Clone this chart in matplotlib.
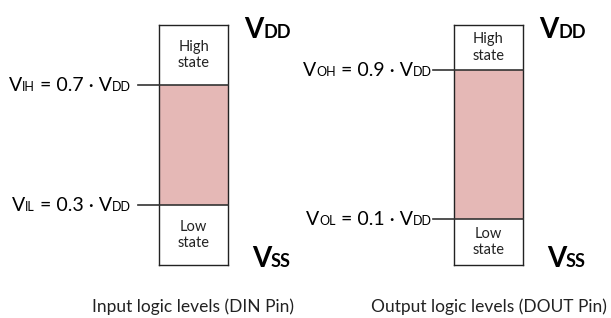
import matplotlib
matplotlib.use("Agg")
import matplotlib.pyplot as plt

# ---- data ----
panel_titles = ["Input logic levels (DIN Pin)", "Output logic levels (DOUT Pin)"]
high_names = ["IH", "OH"]
low_names = ["IL", "OL"]
high_factors = ["0.7", "0.9"]
low_factors = ["0.3", "0.1"]
# drawn (schematic) threshold positions, fraction of VSS..VDD
high_levels = [0.75, 0.81]
low_levels = [0.25, 0.19]
state_labels = ["High\nstate", "Low\nstate"]

W, H = 611, 318
FONT = "Lato"
plt.rcParams['font.family'] = [FONT, 'DejaVu Sans']

fig = plt.figure(figsize=(W / 100, H / 100), dpi=100)
ov = fig.add_axes([0, 0, 1, 1])
ov.set_xlim(0, W)
ov.set_ylim(H, 0)
ov.axis("off")

renderer = fig.canvas.get_renderer()


def chain_text(segments, x_right, y_base, ax):
    """segments: list of (text, size, weight); right aligned at x_right, baseline y_base (pixels)."""
    objs = []
    for s, size, weight in segments:
        t = ax.text(0, y_base, s, fontsize=size, fontweight=weight,
                    ha="left", va="baseline", color="black")
        objs.append(t)
    widths = [t.get_window_extent(renderer).width for t in objs]
    x = x_right - sum(widths)
    for t, w in zip(objs, widths):
        t.set_x(x)
        x += w
    return objs


box_left = [159, 454]
box_w = 69
box_top, box_bot = 24.7, 265.0
fill_color = "#E5B8B6"
ext = 21  # line extension to the left (px)
label_right = [131, 432]

for i in range(2):
    ax = fig.add_axes([box_left[i] / W, (H - box_bot) / H, box_w / W, (box_bot - box_top) / H])
    ax.set_xlim(0, 1)
    ax.set_ylim(0, 1)
    ax.set_xticks([])
    ax.set_yticks([])
    ax.patch.set_alpha(0)
    for sp in ax.spines.values():
        sp.set_linewidth(1.0)
        sp.set_color("#222222")
    ax.bar([0.5], [high_levels[i] - low_levels[i]], bottom=[low_levels[i]], width=1.0,
           color=fill_color, edgecolor="none", zorder=1)
    x0 = -ext / box_w
    for lev in (high_levels[i], low_levels[i]):
        ax.plot([x0, 1], [lev, lev], color="#333333", lw=1.2, clip_on=False, zorder=3)
    ax.text(0.5, (1 + high_levels[i]) / 2, state_labels[0], ha="center", va="center",
            fontsize=10.5, linespacing=1.2, color="#222222")
    ax.text(0.5, low_levels[i] / 2, state_labels[1], ha="center", va="center",
            fontsize=10.5, linespacing=1.2, color="#222222")

    # threshold labels (pixel coordinates)
    y_high = box_bot - high_levels[i] * (box_bot - box_top)
    y_low = box_bot - low_levels[i] * (box_bot - box_top)
    for name, fac, y in ((high_names[i], high_factors[i], y_high), (low_names[i], low_factors[i], y_low)):
        chain_text([("V", 14, "normal"), (name, 9, "normal"),
                    (" = " + fac + " · V", 14, "normal"), ("DD", 9, "normal")],
                   label_right[i], y + 6, ov)

    # VDD / VSS
    vx = box_left[i] + box_w + 22
    chain_text([("V", 20, "bold"), ("DD", 13, "bold")], vx + 41, 37.5, ov)
    chain_text([("V", 20, "bold"), ("SS", 13, "bold")], vx + 41, 267, ov)

    ov.text(box_left[i] + box_w / 2, 307, panel_titles[i],
            ha="center", va="center", fontsize=12.5, color="#222222")

fig.savefig("out.png", dpi=100)
